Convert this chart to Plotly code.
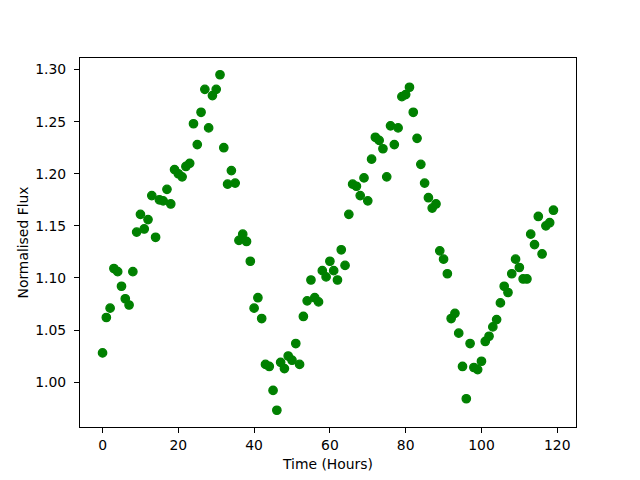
import plotly.graph_objects as go

hours = list(range(120))
flux = [
    1.028, 1.062, 1.071, 1.109, 1.106, 1.092, 1.080, 1.074, 1.106, 1.144,
    1.161, 1.147, 1.156, 1.179, 1.139, 1.175, 1.174, 1.185, 1.171, 1.204,
    1.200, 1.197, 1.207, 1.210, 1.248, 1.228, 1.259, 1.281, 1.244, 1.275,
    1.281, 1.295, 1.225, 1.190, 1.203, 1.191, 1.136, 1.142, 1.135, 1.116,
    1.071, 1.081, 1.061, 1.017, 1.015, 0.992, 0.973, 1.019, 1.013, 1.025,
    1.021, 1.037, 1.017, 1.063, 1.078, 1.098, 1.081, 1.077, 1.107, 1.101,
    1.116, 1.107, 1.098, 1.127, 1.112, 1.161, 1.190, 1.188, 1.179, 1.196,
    1.174, 1.214, 1.235, 1.232, 1.224, 1.197, 1.246, 1.228, 1.244, 1.274,
    1.276, 1.283, 1.259, 1.234, 1.209, 1.191, 1.177, 1.167, 1.171, 1.126,
    1.118, 1.104, 1.061, 1.066, 1.047, 1.015, 0.984, 1.037, 1.014, 1.012,
    1.020, 1.039, 1.044, 1.053, 1.060, 1.076, 1.092, 1.086, 1.104, 1.118,
    1.110, 1.099, 1.099, 1.142, 1.132, 1.159, 1.123, 1.150, 1.153, 1.165,
]
x_ticks = [0, 20, 40, 60, 80, 100, 120]
y_ticks = [1.00, 1.05, 1.10, 1.15, 1.20, 1.25, 1.30]

xmin, xmax = min(hours), max(hours)
ymin, ymax = min(flux), max(flux)
xpad = 0.05 * (xmax - xmin)
ypad = 0.05 * (ymax - ymin)

fig = go.Figure(go.Scatter(
    x=hours, y=flux, mode="markers",
    marker=dict(color="green", size=8.4, line=dict(color="green", width=1.3)),
))

FONT = dict(family="DejaVu Sans", size=13.9, color="black")
axis_common = dict(
    showgrid=False, zeroline=False, showline=True, linecolor="black",
    linewidth=1, mirror=True, ticks="outside", ticklen=5, tickwidth=1,
    tickcolor="black", tickfont=FONT, automargin=False,
)

# page body has an 8px margin, so the figure is sized to fill the rest of the window
fig.update_layout(
    width=632, height=472,
    margin=dict(l=72, r=64, t=50, b=53),
    paper_bgcolor="white", plot_bgcolor="white",
    showlegend=False,
    font=FONT,
    xaxis=dict(range=[xmin - xpad, xmax + xpad], tickvals=x_ticks, ticklabelstandoff=0,
               title=dict(text="Time (Hours)", standoff=7, font=FONT), **axis_common),
    yaxis=dict(range=[ymin - ypad, ymax + ypad], tickvals=y_ticks, tickformat=".2f",
               ticklabelstandoff=5,
               title=dict(text="Normalised Flux", standoff=3, font=FONT), **axis_common),
)

fig.write_html("out.html")
